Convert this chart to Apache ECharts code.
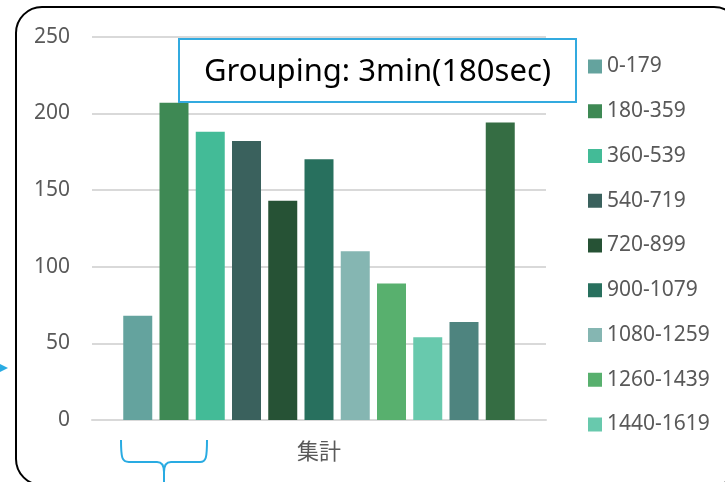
<!DOCTYPE html>
<html>
<head>
<meta charset="utf-8">
<script src="https://cdn.jsdelivr.net/npm/echarts@6/dist/echarts.min.js"></script>
<style>
  html, body { margin: 0; padding: 0; background: #fff; }
  #chart { width: 725px; height: 482px; }
</style>
</head>
<body>
<div id="chart"></div>
<script>
// Duration buckets (seconds) and their counts
const categories = ['集計'];
const seriesNames = ['0-179', '180-359', '360-539', '540-719', '720-899', '900-1079',
  '1080-1259', '1260-1439', '1440-1619', '1620-1799', '1800-'];
const seriesValues = [68, 207, 188, 182, 143, 170, 110, 89, 54, 64, 194];
const legendNames = seriesNames.slice(0, 9);
const yTicks = { min: 0, max: 250, interval: 50 };
const palette = ['#64a39e', '#3e8954', '#43bb97', '#3a615d', '#265235', '#28705e',
  '#85b6b2', '#58b06e', '#68c9ad', '#4e847f', '#356d43'];

const textColor = '#595959';
const font = '"Noto Sans", sans-serif';
const accent = '#29abe2';

const chart = echarts.init(document.getElementById('chart'));

const series = seriesNames.map((name, i) => ({
  name: name,
  type: 'bar',
  data: [seriesValues[i]],
  barWidth: 29,
  barGap: '25%',
  itemStyle: { color: palette[i] },
  z: 2
}));

const braceStyle = { fill: 'none', stroke: accent, lineWidth: 2 };

chart.setOption({
  animation: false,
  color: palette,
  grid: { left: 92, right: 179, top: 36.7, bottom: 62, containLabel: false },
  legend: {
    orient: 'vertical',
    left: 588,
    top: 56,
    padding: 0,
    data: legendNames,
    icon: 'rect',
    itemWidth: 14,
    itemHeight: 14,
    itemGap: 23.75,
    textStyle: { color: textColor, fontSize: 21, fontFamily: font, lineHeight: 20 },
    selectedMode: false
  },
  xAxis: {
    type: 'category',
    data: categories,
    axisLine: { show: true, lineStyle: { color: '#d9d9d9', width: 2 } },
    axisTick: { show: false },
    axisLabel: { color: textColor, fontSize: 22, margin: 20, fontFamily: '"Noto Sans CJK JP", sans-serif' }
  },
  yAxis: {
    type: 'value',
    min: yTicks.min,
    max: yTicks.max,
    interval: yTicks.interval,
    axisLine: { show: false },
    axisTick: { show: false },
    axisLabel: { color: textColor, fontSize: 21, margin: 22, fontFamily: font },
    splitLine: { lineStyle: { color: '#d9d9d9', width: 2 } }
  },
  series: series,
  graphic: [
    {
      // rounded frame around the chart
      type: 'rect',
      shape: { x: 16, y: 7, width: 724, height: 478, r: 26 },
      style: { fill: 'none', stroke: '#000', lineWidth: 2 },
      z: 10
    },
    {
      // grouping caption box
      type: 'rect',
      shape: { x: 179, y: 39, width: 397, height: 63 },
      style: { fill: '#fff', stroke: '#33aadf', lineWidth: 2 },
      z: 20
    },
    {
      type: 'text',
      x: 377.5,
      y: 72,
      style: {
        text: 'Grouping: 3min(180sec)',
        fill: '#000',
        font: '31px "Noto Sans", sans-serif',
        align: 'center',
        verticalAlign: 'middle'
      },
      z: 21
    },
    // brace under the first bars
    { type: 'bezierCurve', shape: { x1: 121, y1: 440, cpx1: 121, cpy1: 458, cpx2: 122, cpy2: 462, x2: 129, y2: 462 }, style: braceStyle, z: 20 },
    { type: 'line', shape: { x1: 129, y1: 462, x2: 157, y2: 462 }, style: braceStyle, z: 20 },
    { type: 'bezierCurve', shape: { x1: 157, y1: 462, cpx1: 162, cpy1: 462, cpx2: 164, cpy2: 466, x2: 164, y2: 472 }, style: braceStyle, z: 20 },
    { type: 'bezierCurve', shape: { x1: 171, y1: 462, cpx1: 166, cpy1: 462, cpx2: 164, cpy2: 466, x2: 164, y2: 472 }, style: braceStyle, z: 20 },
    { type: 'line', shape: { x1: 164, y1: 472, x2: 164, y2: 482 }, style: braceStyle, z: 20 },
    { type: 'line', shape: { x1: 171, y1: 462, x2: 200, y2: 462 }, style: braceStyle, z: 20 },
    { type: 'bezierCurve', shape: { x1: 207, y1: 440, cpx1: 207, cpy1: 458, cpx2: 206, cpy2: 462, x2: 200, y2: 462 }, style: braceStyle, z: 20 },
    {
      // small pointer on the left edge
      type: 'polygon',
      shape: { points: [[0, 364], [8, 368], [0, 372]] },
      style: { fill: accent },
      z: 20
    }
  ]
});
</script>
</body>
</html>
